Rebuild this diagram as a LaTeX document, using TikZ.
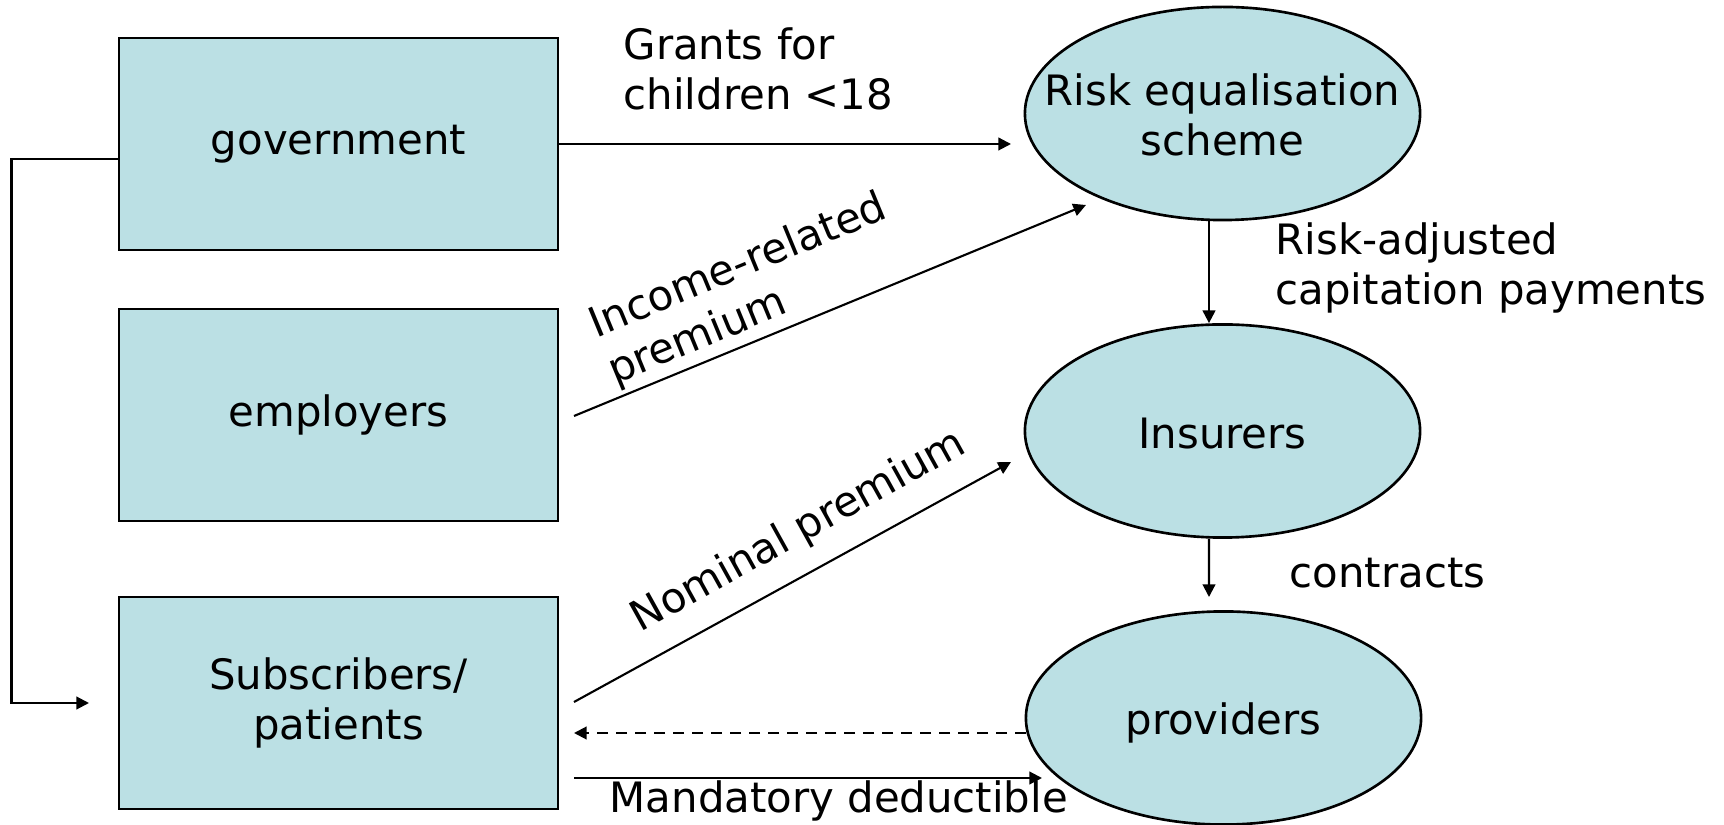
\documentclass[tikz,border=0pt]{standalone}
\usepackage{fontspec}
\setmainfont{DejaVu Sans}
\usetikzlibrary{shapes.geometric,arrows.meta}
\definecolor{boxfill}{RGB}{187,224,228}
\begin{document}
\begin{tikzpicture}[x=0.01cm,y=0.01cm,
  every node/.style={font=\fontsize{11.9pt}{14.2pt}\selectfont},
  entity/.style={draw=black,line width=0.75pt,fill=boxfill,minimum width=4.39cm,minimum height=2.12cm,inner sep=0pt,align=center},
  agent/.style={ellipse,draw=black,line width=0.75pt,fill=boxfill,minimum width=3.95cm,minimum height=2.13cm,inner sep=0pt},
  intext/.style={inner sep=0pt,align=center},
  flow/.style={line width=0.6pt,-{Triangle[length=3.6pt,width=3.6pt]}},
  lbl/.style={inner sep=0pt,align=left}]
\useasboundingbox (0,0) rectangle (1724,-825);
% nodes
\node[entity] (gov) at (338.5,-144) {government};
\node[entity] (emp) at (338.5,-415) {employers};
\node[entity] (sub) at (338.5,-703) {Subscribers/\\patients};
\node[agent] (res) at (1222.5,-113.5) {};
\node[intext] (restext) at ([yshift=-0.01cm]res.center) {Risk equalisation\\scheme};
\node[agent] (ins) at (1222.5,-431) {};
\node[intext] (instext) at ([yshift=-0.03cm]ins.center) {Insurers};
\node[agent] (prov) at (1223.5,-718) {};
\node[intext] (provtext) at ([yshift=-0.05cm]prov.center) {providers};
% free ends
\coordinate (gt) at (1011,-144);
\coordinate (es) at (574,-416);
\coordinate (et) at (1086,-205);
\coordinate (ns) at (574,-702);
\coordinate (nt) at (1011,-462);
\coordinate (ds) at (1026,-733);
\coordinate (dt) at (574,-733);
\coordinate (ms) at (574,-778);
\coordinate (mt) at (1042,-778);
\coordinate (pt) at (1209,-597);
\coordinate (subin) at (89,-703);
% connectors
\draw[flow] (gov.east) -- (gt);
\draw[flow] (es) -- (et);
\draw[flow] (ns) -- (nt);
\draw[flow,dash pattern=on 3.2pt off 2.2pt] (ds) -- (dt);
\draw[flow] (ms) -- (mt);
\draw[flow] ([xshift=-0.135cm]res.south) -- ([xshift=-0.135cm]ins.north);
\draw[flow] ([xshift=-0.135cm]ins.south) -- (pt);
\draw[flow] ([yshift=-0.15cm]gov.west) -- ++(-106,0) |- (subin);
% labels
\node[lbl,anchor=west] (grants) at (623,-69) {Grants for\\children <18};
\node[lbl,anchor=west] (radj) at (1275,-268) {Risk-adjusted\\capitation payments};
\node[lbl,anchor=base west] (contr) at (1289,-588) {contracts};
\node[lbl,anchor=base west] (mand) at (609,-813) {Mandatory deductible};
\node[lbl,rotate=22.4] (inc) at (748,-290) {Income-related\\premium};
\node[lbl,rotate=29] (nom) at (799,-532) {Nominal premium};
\end{tikzpicture}
\end{document}
